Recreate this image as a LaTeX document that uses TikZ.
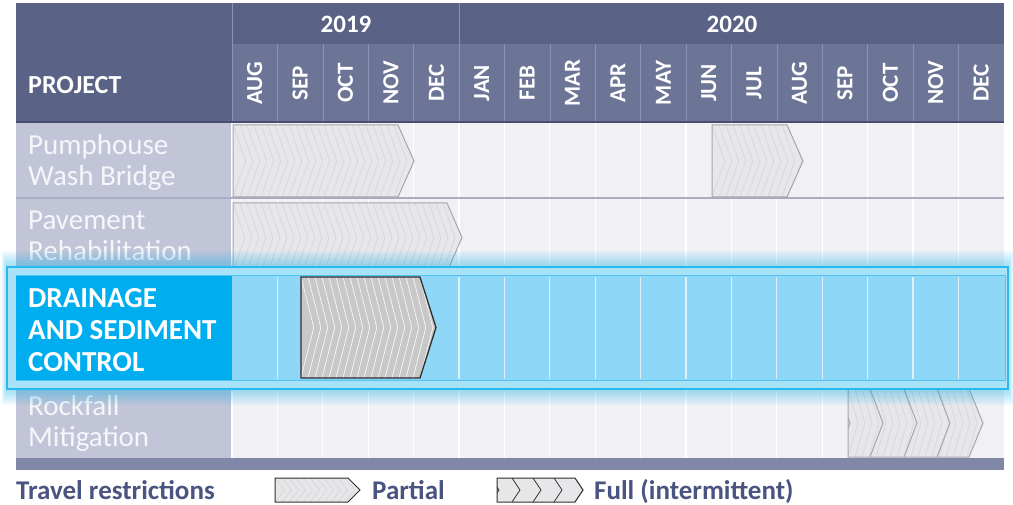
\documentclass[tikz,border=0pt]{standalone}
\usepackage{fontspec}
\setmainfont{Carlito}

\definecolor{hdrdark}{HTML}{5A6285}
\definecolor{hdrmonth}{HTML}{6D7597}
\definecolor{hdrline}{HTML}{8C93B3}
\definecolor{hdrbottom}{HTML}{474D6E}
\definecolor{projcol}{HTML}{C1C5D7}
\definecolor{projtext}{HTML}{F6F6FA}
\definecolor{cellbg}{HTML}{F0F0F5}
\definecolor{rowline}{HTML}{A9ACC2}
\definecolor{hiblue}{HTML}{00AEEF}
\definecolor{rowblue}{HTML}{8FD7F6}
\definecolor{bandblue}{HTML}{A8E2F9}
\definecolor{barcol}{HTML}{8087A7}
\definecolor{legtext}{HTML}{4A5480}
\definecolor{arrowfill}{HTML}{E7E7EA}
\definecolor{arrowstripe}{HTML}{D6D6DB}
\definecolor{arrowline}{HTML}{A6A6AD}
\definecolor{activefill}{HTML}{C8C8C8}
\definecolor{activeline}{HTML}{2F2F2F}

% striped arrow: left, body end, tip, top, bottom, fill, stripe, outline
\newcommand{\stripedarrow}[8]{%
  \begin{scope}
    \clip (#1,#4) -- (#2,#4) -- (#3,{(#4+#5)/2}) -- (#2,#5) -- (#1,#5) -- cycle;
    \fill[#6] (#1,#4) rectangle (#3,#5);
    \foreach \sx in {0,7,...,260}
      \draw[#7,line width=0.7pt] ({#1+\sx},#4) -- ({#1+\sx+0.8*(#3-#2)},{(#4+#5)/2}) -- ({#1+\sx},#5);
  \end{scope}
  \draw[#8] (#1,#4) -- (#2,#4) -- (#3,{(#4+#5)/2}) -- (#2,#5) -- (#1,#5) -- cycle;}

\begin{document}
\begin{tikzpicture}[x=1pt,y=-1pt,
    month/.style={rotate=90,text=white,font=\fontsize{23}{23}\selectfont\bfseries},
    year/.style={anchor=base,text=white,font=\fontsize{25}{25}\selectfont\bfseries},
    project/.style={anchor=base west,align=left,inner sep=0pt,text=projtext,font=\fontsize{29}{31}\selectfont},
    activeproject/.style={project,text=white,font=\fontsize{29}{32}\selectfont\bfseries},
    legend/.style={anchor=base west,inner sep=0pt,text=legtext,font=\fontsize{27}{27}\selectfont\bfseries},
    monthline/.style={white,line width=1.2pt},
    lightarrow/.style={draw=arrowline,line width=1pt},
    darkarrow/.style={draw=activeline,line width=1.3pt}
    ]
    \useasboundingbox (0,0) rectangle (1013,505);
    \fill[white] (0,0) rectangle (1013,505);

    % header
    \fill[hdrdark] (16,3) rectangle (1004,44);
    \fill[hdrmonth] (232,44) rectangle (1004,122);
    \fill[hdrdark] (16,3) rectangle (232,122);
    \draw[hdrline] (232,3) -- (232,122);
    \draw[hdrline] (459,3) -- (459,44);
    \foreach \k in {1,...,16}
      \draw[hdrline] ({232+45.4*\k},44) -- ({232+45.4*\k},122);
    \draw[hdrbottom,line width=2pt] (16,122) -- (1004,122);

    % body
    \fill[projcol] (16,123) rectangle (232,458);
    \fill[cellbg] (232,123) rectangle (1004,458);
    \foreach \k in {0,...,16}
      \draw[monthline] ({232+45.4*\k},123) -- ({232+45.4*\k},458);
    \draw[rowline,line width=1.2pt] (16,198) -- (1004,198);

    % restriction bars
    \stripedarrow{233}{398}{414}{125}{197}{arrowfill}{arrowstripe}{lightarrow}
    \stripedarrow{712}{787}{803}{125}{197}{arrowfill}{arrowstripe}{lightarrow}
    \stripedarrow{233}{447}{462}{203}{272}{arrowfill}{arrowstripe}{lightarrow}
    \begin{scope}
      \clip (848,389) -- (969,389) -- (983,423) -- (969,457) -- (848,457) -- cycle;
      \fill[arrowfill] (848,389) rectangle (983,457);
      \foreach \sx in {0,7,...,140}
        \draw[arrowstripe,line width=0.7pt] ({848+\sx},389) -- ({858+\sx},423) -- ({848+\sx},457);
      \foreach \t in {850,883,917,950}
        \draw[lightarrow] ({\t-13},389) -- (\t,423) -- ({\t-13},457);
    \end{scope}
    \draw[lightarrow] (848,389) -- (969,389) -- (983,423) -- (969,457) -- (848,457) -- cycle;

    % project names
    \node (pumphouse) at (28,186) [project] {Pumphouse\\Wash Bridge};
    \node (pavement) at (28,261) [project] {Pavement\\Rehabilitation};
    \node (rockfall) at (28,446) [project] {Rockfall\\Mitigation};

    % highlighted row
    \foreach \g in {2,4,...,16}
      \fill[hiblue,opacity=0.05] ({7-\g/3},{267-\g}) rectangle ({1008+\g/3},{389+\g});
    \fill[bandblue] (7,267) rectangle (1008,389);
    \draw[hiblue!85,line width=1.5pt] (7,267) rectangle (1008,389);
    \fill[rowblue] (16,276) rectangle (1005,380);
    \draw[hiblue!70,line width=1pt] (16,276) rectangle (1005,380);
    \fill[hiblue] (16,276) rectangle (232,380);
    \foreach \k in {1,...,16}
      \draw[white,opacity=0.7,line width=1.2pt] ({232+45.4*\k},277) -- ({232+45.4*\k},379);
    \stripedarrow{301}{420}{436}{277}{378}{activefill}{white!85!activefill}{darkarrow}
    \node (drainage) at (28,371) [activeproject] {DRAINAGE\\AND SEDIMENT\\CONTROL};

    \fill[barcol] (16,458) rectangle (1004,470);

    % header texts
    \node (project) at (28,94) [anchor=base west,inner sep=0pt,text=white,font=\fontsize{26}{26}\selectfont\bfseries] {PROJECT};
    \node (y2019) at (346,33) [year] {2019};
    \node (y2020) at (732,33) [year] {2020};
    \foreach \m [count=\i from 0] in {AUG,SEP,OCT,NOV,DEC,JAN,FEB,MAR,APR,MAY,JUN,JUL,AUG,SEP,OCT,NOV,DEC}
      \node (m\i) at ({232+45.4*(\i+0.5)},83) [month] {\m};

    % legend
    \node (travel) at (16,499) [legend] {Travel restrictions};
    \stripedarrow{275}{348}{360}{478}{502}{arrowfill}{arrowstripe}{draw=activeline,line width=1pt}
    \node (partial) at (372,499) [legend] {Partial};
    \begin{scope}
      \clip (497,478) -- (575,478) -- (583,490) -- (575,502) -- (497,502) -- cycle;
      \fill[arrowfill] (497,478) rectangle (583,502);
      \foreach \t in {499,520,541,562}
        \draw[activeline,line width=0.8pt] ({\t-8},478) -- (\t,490) -- ({\t-8},502);
    \end{scope}
    \draw[activeline,line width=1pt] (497,478) -- (575,478) -- (583,490) -- (575,502) -- (497,502) -- cycle;
    \node (full) at (594,499) [legend] {Full (intermittent)};
\end{tikzpicture}
\end{document}
